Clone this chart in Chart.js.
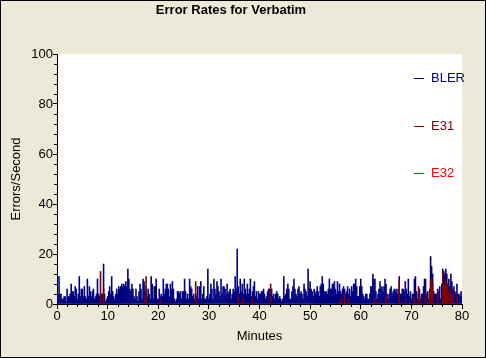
<!DOCTYPE html>
<html><head><meta charset="utf-8">
<script src="https://cdn.jsdelivr.net/npm/chart.js@4"></script>
<style>html,body{margin:0;padding:0;background:#ECE9D8;}canvas{display:block;}</style>
</head><body>
<canvas id="c" width="486" height="358"></canvas>
<script>
// ---- data ----
const chartTitle = 'Error Rates for Verbatim';
const sampleStepMinutes = 0.2;
const blerValues = [
 4,4,11,4,4, 2,2,3,3,1, 6,3,3,4,8, 5,5,3,7,6, 2,4,11,3,6,
 6,3,7,3,2, 10,3,7,5,3, 5,6,2,3,4, 10,4,3,4,4, 4,16,4,1,2,
 3,5,7,4,11, 5,3,2,4,6, 4,7,6,7,8, 7,8,7,9,7, 14,10,6,5,8,
 6,3,2,6,3, 1,5,8,6,2, 10,9,5,7,3, 6,4,2,11,8, 2,7,7,10,2,
 2,6,3,4,3, 10,4,6,8,8, 6,3,8,6,9, 6,2,1,2,5, 5,4,5,2,5,
 5,10,5,2,4, 2,10,7,6,3, 4,2,4,3,7, 2,7,9,2,4, 7,2,2,3,14,
 2,4,8,6,2, 10,6,4,9,7, 5,3,10,4,7, 7,6,4,8,4, 5,6,2,4,6,
 5,11,6,22,7, 4,10,5,8,4, 10,6,4,8,4, 6,10,3,5,7, 9,3,5,2,5,
 4,4,5,5,6, 4,2,3,5,6, 6,5,6,3,4, 2,4,5,4,2, 3,2,1,2,11,
 3,4,6,8,6, 2,2,5,7,10, 6,4,3,6,7, 4,5,4,2,8, 6,5,3,14,6,
 9,6,5,3,6, 4,5,7,5,3, 7,8,11,8,5, 5,5,4,6,10, 6,6,8,8,9,
 6,4,9,5,8, 5,4,6,7,6, 4,5,7,4,6, 3,7,5,8,8, 10,7,3,3,7,
 10,7,4,3,2, 4,4,2,2,4, 7,7,12,10,10, 5,2,4,6,9, 6,7,5,7,10,
 8,4,2,4,6, 7,4,5,6,5, 6,4,6,11,4, 4,6,6,5,9, 6,4,10,3,5,
 2,4,4,10,11, 5,2,4,6,2, 4,4,7,10,10, 4,5,2,5,19, 15,12,5,4,4,
 4,6,5,7,2, 8,14,13,12,14, 12,8,10,7,12, 9,6,7,5,4, 8,4,4,3,5,
 3
];
const e31Minutes = [8.6,9.2,17.4,17.6,20.4,27.4,35.8,36.8,38.6,42.2,56.0,56.2,56.8,57.6,62.8,63.4,65.0,67.6,69.0,70.6,71.4,71.6,72.8,73.6,73.8,74.0,74.2,75.2,76.2,76.4,76.6,76.8,77.0,77.2,77.4,77.8,78.2,79.0];
const e31Values  = [13,6,3,11,2,9,3,2,2,8,1,2,4,2,2,1,3,9,2,3,7,3,4,6,10,10,8,5,13,8,7,10,6,8,4,6,4,3];
const e32Minutes = [];
const e32Values  = [];
const xTickValues = [0,10,20,30,40,50,60,70,80];
const yTickValues = [0,20,40,60,80,100];
const seriesNames = ['BLER','E31','E32'];
const seriesColors = ['#000080','#800000','#FF0000'];

// ---- build ----
const blerPoints = blerValues.map((v,i)=>({x: Math.round(i*sampleStepMinutes*10)/10, y: v}));
const e31Points = e31Minutes.map((m,i)=>({x:m, y:e31Values[i]}));
const e32Points = e32Minutes.map((m,i)=>({x:m, y:e32Values[i]}));

Chart.defaults.font.family = '"Liberation Sans", Arial, sans-serif';
Chart.defaults.font.size = 13;
Chart.defaults.color = '#000';

const FONT = '"Liberation Sans", Arial, sans-serif';

const decor = {
  id: 'decor',
  beforeDraw(chart) {
    const {ctx, chartArea: a} = chart;
    ctx.save();
    ctx.fillStyle = '#ECE9D8';
    ctx.fillRect(0,0,chart.width,chart.height);
    ctx.fillStyle = '#FFFFFF';
    ctx.fillRect(a.left, a.top, a.right-a.left, a.bottom-a.top);
    ctx.restore();
  },
  afterDraw(chart) {
    const {ctx, chartArea: a, scales} = chart;
    ctx.save();
    // minor ticks
    ctx.strokeStyle = '#000'; ctx.lineWidth = 1;
    ctx.beginPath();
    for (let v = 0; v <= 80; v += 2) {
      if (v % 10 === 0) continue;
      const px = Math.round(scales.x.getPixelForValue(v)) + 0.5;
      ctx.moveTo(px, a.bottom); ctx.lineTo(px, a.bottom + 3);
    }
    for (let v = 0; v <= 100; v += 4) {
      if (v % 20 === 0) continue;
      const py = Math.round(scales.y.getPixelForValue(v)) + 0.5;
      ctx.moveTo(a.left - 3, py); ctx.lineTo(a.left, py);
    }
    ctx.stroke();
    // legend
    ctx.font = '13px ' + FONT;
    ctx.textBaseline = 'middle';
    ctx.textAlign = 'left';
    chart.data.datasets.forEach((ds, i) => {
      const y = Math.round(a.top + 24 + i * 47.5) + 0.5;
      ctx.strokeStyle = ds.backgroundColor;
      ctx.beginPath(); ctx.moveTo(414, y); ctx.lineTo(424, y); ctx.stroke();
      ctx.fillStyle = ds.backgroundColor;
      ctx.fillText(ds.label, 431, y);
    });
    // outer border
    ctx.strokeStyle = '#000';
    ctx.strokeRect(0.5, 0.5, chart.width - 1, chart.height - 1);
    ctx.restore();
  }
};

new Chart(document.getElementById('c'), {
  type: 'bar',
  data: {
    datasets: [
      {label: seriesNames[0], data: blerPoints, backgroundColor: seriesColors[0], order: 3},
      {label: seriesNames[1], data: e31Points, backgroundColor: seriesColors[1], order: 1},
      {label: seriesNames[2], data: e32Points, backgroundColor: seriesColors[2], order: 2}
    ]
  },
  options: {
    responsive: false,
    animation: false,
    devicePixelRatio: 1,
    layout: {padding: {top: 0, left: 0, right: 24, bottom: 0}},
    datasets: {bar: {grouped: false, barPercentage: 1, categoryPercentage: 1, borderWidth: 0, inflateAmount: 0.3}},
    plugins: {
      legend: {display: false},
      tooltip: {enabled: false},
      title: {display: true, text: chartTitle, color: '#000',
              font: {family: FONT, size: 13, weight: 'bold'},
              padding: {top: 3, bottom: 35.4}}
    },
    scales: {
      x: {
        type: 'linear', min: 0, max: 80, offset: false,
        afterBuildTicks(s){ s.ticks = xTickValues.map(v=>({value:v})); },
        afterFit(s){ s.height = 54; },
        ticks: {color: '#000', padding: 0, maxRotation: 0, autoSkip: false, font: {size: 13}},
        grid: {display: true, drawOnChartArea: false, tickLength: 5, color: '#000', offset: false},
        border: {display: true, color: '#000', width: 1},
        title: {display: true, text: 'Minutes', color: '#000', font: {size: 13}, padding: {top: 0, bottom: 14}}
      },
      y: {
        min: 0, max: 100,
        afterBuildTicks(s){ s.ticks = yTickValues.map(v=>({value:v})); },
        afterFit(s){ s.width = 57; },
        ticks: {color: '#000', padding: 0, font: {size: 13}},
        grid: {display: true, drawOnChartArea: false, tickLength: 4, color: '#000'},
        border: {display: true, color: '#000', width: 1},
        title: {display: true, text: 'Errors/Second', color: '#000', font: {size: 13}, padding: {top: 9, bottom: 0}}
      }
    }
  },
  plugins: [decor]
});
</script>
</body></html>
